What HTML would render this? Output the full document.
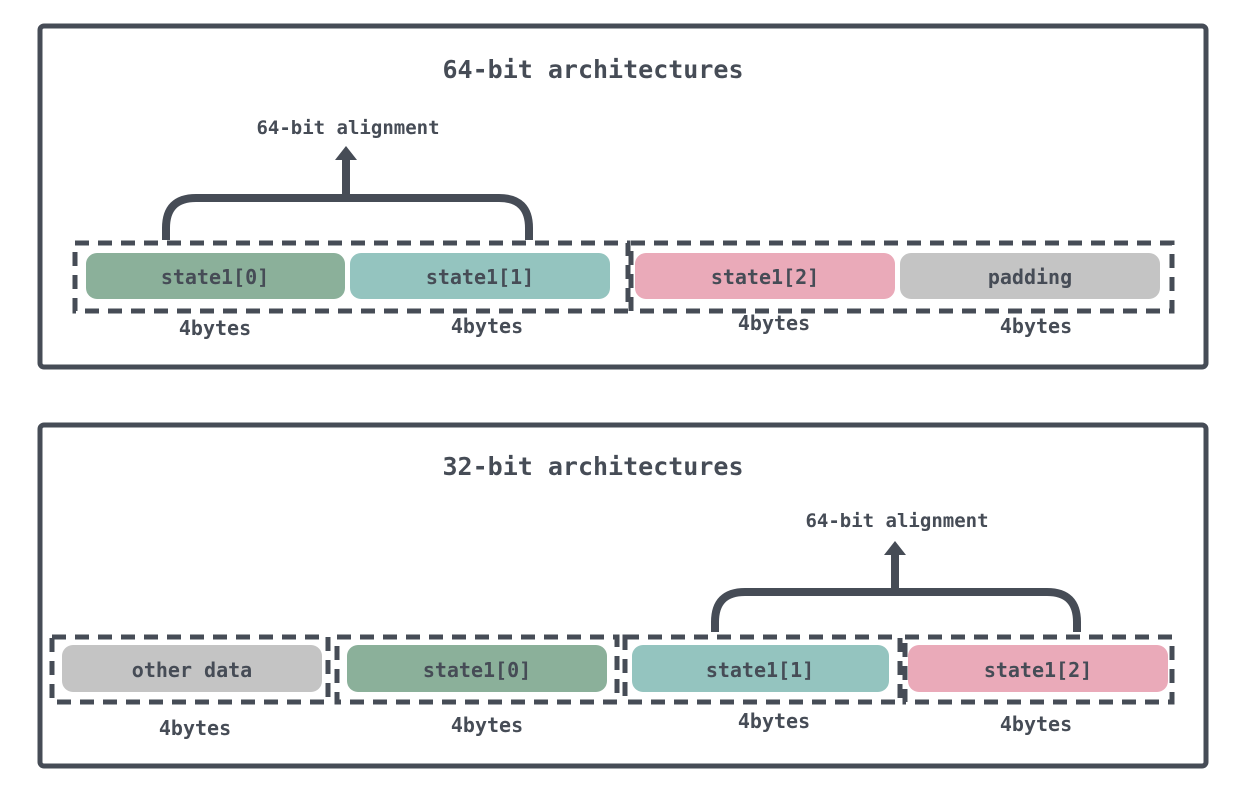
<!DOCTYPE html>
<html><head><meta charset="utf-8"><style>
html,body{margin:0;padding:0;background:#fff;}
svg{display:block;}
text{font-family:"DejaVu Sans Mono","Liberation Mono",monospace;font-weight:bold;fill:#464c56;}
</style></head><body>
<svg width="1246" height="798" viewBox="0 0 1246 798" xmlns="http://www.w3.org/2000/svg">
<g fill="none" stroke="#464c56">
<rect x="40" y="26" width="1166" height="341" rx="4" stroke-width="5"/>
<rect x="40" y="425" width="1166" height="341" rx="4" stroke-width="5"/>
<g stroke-width="5" stroke-dasharray="14,9">
<rect x="75" y="243" width="553" height="68"/>
<rect x="631" y="243" width="541" height="68"/>
<rect x="52" y="637" width="276" height="65"/>
<rect x="337" y="637" width="280" height="65"/>
<rect x="625" y="637" width="275" height="65"/>
<rect x="905" y="637" width="267" height="65"/>
</g>
<path d="M166 240 V228 Q166 198 196 198 H499 Q529 198 529 228 V240 M346 198 V160" stroke-width="8"/>
<path d="M715 632 V622 Q715 592 745 592 H1047 Q1077 592 1077 622 V632 M895 592 V555" stroke-width="8"/>
</g>
<polygon points="335,160 357,160 346,146" fill="#464c56"/>
<polygon points="884,555 906,555 895,541" fill="#464c56"/>
<rect x="86" y="253" width="259" height="46" rx="11" fill="#8bb09a"/>
<rect x="350" y="253" width="260" height="46" rx="11" fill="#94c4bf"/>
<rect x="635" y="253" width="260" height="46" rx="11" fill="#eaaab9"/>
<rect x="900" y="253" width="260" height="46" rx="11" fill="#c4c4c4"/>
<rect x="62" y="645" width="260" height="47" rx="11" fill="#c4c4c4"/>
<rect x="347" y="645" width="260" height="47" rx="11" fill="#8bb09a"/>
<rect x="632" y="645" width="257" height="47" rx="11" fill="#94c4bf"/>
<rect x="908" y="645" width="260" height="47" rx="11" fill="#eaaab9"/>
<g text-anchor="middle" font-size="20">
<text x="215" y="284">state1[0]</text>
<text x="480" y="284">state1[1]</text>
<text x="765" y="284">state1[2]</text>
<text x="1030" y="284">padding</text>
<text x="192" y="677">other data</text>
<text x="477" y="677">state1[0]</text>
<text x="760" y="677">state1[1]</text>
<text x="1038" y="677">state1[2]</text>
<text x="215" y="335">4bytes</text>
<text x="487" y="333">4bytes</text>
<text x="774" y="330">4bytes</text>
<text x="1036" y="333">4bytes</text>
<text x="195" y="735">4bytes</text>
<text x="487" y="732">4bytes</text>
<text x="774" y="728">4bytes</text>
<text x="1036" y="731">4bytes</text>
</g>
<g text-anchor="middle" font-size="19">
<text x="348" y="134">64-bit alignment</text>
<text x="897" y="527">64-bit alignment</text>
</g>
<g text-anchor="middle" font-size="25">
<text x="593" y="78">64-bit architectures</text>
<text x="593" y="475">32-bit architectures</text>
</g>
</svg>
</body></html>
